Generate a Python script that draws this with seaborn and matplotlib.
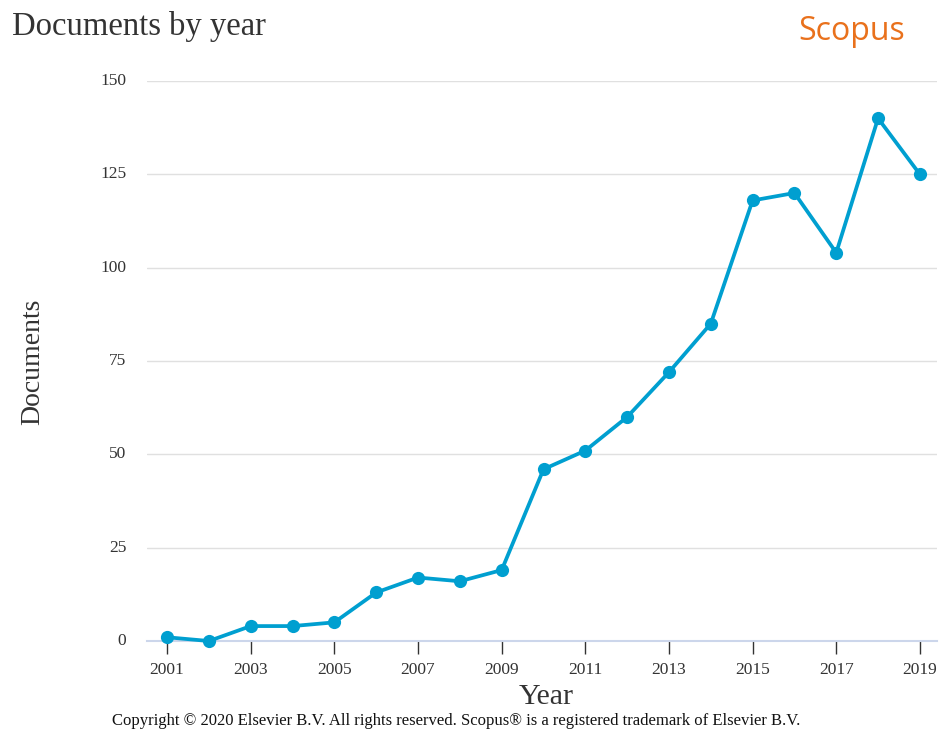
import numpy as np
import pandas as pd
import seaborn as sns
import matplotlib as mpl
mpl.use("Agg")
import matplotlib.pyplot as plt

years = [2001, 2002, 2003, 2004, 2005, 2006, 2007, 2008, 2009, 2010,
         2011, 2012, 2013, 2014, 2015, 2016, 2017, 2018, 2019]
docs = [1, 0, 4, 4, 5, 13, 17, 16, 19, 46,
        51, 60, 72, 85, 118, 120, 104, 140, 125]
xticks = list(range(2001, 2020, 2))
yticks = [0, 25, 50, 75, 100, 125, 150]

df = pd.DataFrame({'Year': years, 'Documents': docs})

sns.set_style('white')
plt.rcParams['font.family'] = ['Liberation Serif', 'DejaVu Serif']

line_col = '#009fd0'
txt_col = '#333333'

fig = plt.figure(figsize=(9.39, 7.33), dpi=100)
ax = fig.add_axes([0.1566, 0.1255, 0.8413, 0.764])

sns.lineplot(data=df, x='Year', y='Documents', ax=ax, color=line_col,
             linewidth=2.7, marker='o', markersize=9.5, markeredgewidth=0,
             clip_on=False, zorder=5)

ax.set_xlim(2000.52, 2019.41)
ax.set_ylim(0, 150)
ax.set_xticks(xticks)
ax.set_yticks(yticks)
ax.set_xticklabels([str(x) for x in xticks], fontsize=12.5, color=txt_col)
ax.set_yticklabels([str(y) for y in yticks], fontsize=12.5, color=txt_col)

ax.grid(axis='y', color='#e0e0e0', linewidth=1)
ax.grid(axis='x', visible=False)
for s in ['left', 'right', 'top']:
    ax.spines[s].set_visible(False)
ax.spines['bottom'].set_color('#ccd6eb')
ax.spines['bottom'].set_linewidth(1.5)
ax.spines['bottom'].set_zorder(1)

ax.tick_params(axis='x', direction='out', length=9, width=1, color='#333333',
               pad=6, bottom=True)
ax.tick_params(axis='y', length=0, pad=15)
for lbl in ax.get_yticklabels():
    lbl.set_verticalalignment('center')

ax.set_xlabel('Year', fontsize=21.5, color=txt_col)
ax.xaxis.set_label_coords((546 - 147) / 790, -(697 - 641) / 560)
ax.set_ylabel('Documents', fontsize=20, color=txt_col)
ax.yaxis.set_label_coords(-(147 - 33) / 790, (641 - 362) / 560)
ax.xaxis.label.set_va('center')
ax.yaxis.label.set_va('center')

fig.text(12 / 939, 1 - 26 / 733, 'Documents by year', fontsize=23.5,
         color=txt_col, va='center', ha='left')
fig.text(852 / 939, 1 - 31 / 733, 'Scopus', fontsize=23, color='#e9711c',
         family=['Open Sans', 'DejaVu Sans'], va='center', ha='center')
fig.text(456 / 939, 1 - 721 / 733,
         'Copyright \u00a9 2020 Elsevier B.V. All rights reserved. '
         'Scopus\u00ae is a registered trademark of Elsevier B.V.',
         fontsize=12, color='#111111', ha='center', va='center')

plt.savefig('out.png', dpi=100)
